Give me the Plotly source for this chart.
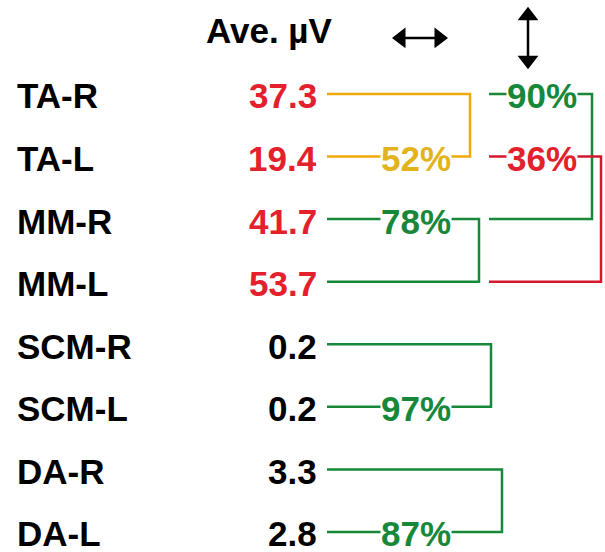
import plotly.graph_objects as go

# ---- data ----
muscles = ["TA-R", "TA-L", "MM-R", "MM-L", "SCM-R", "SCM-L", "DA-R", "DA-L"]
ave_uv = [37.3, 19.4, 41.7, 53.7, 0.2, 0.2, 3.3, 2.8]
value_colors = ["red", "red", "red", "red", "black", "black", "black", "black"]

# left/right comparisons (horizontal arrow column)
h_pairs = [(0, 1), (2, 3), (4, 5), (6, 7)]
h_pct = [52, 78, 97, 87]
h_text_row = [1, 2, 5, 7]
h_colors = ["yellow", "green", "green", "green"]

# top/bottom comparisons (vertical arrow column)
v_pairs = [(0, 2), (1, 3)]
v_pct = [90, 36]
v_text_row = [0, 1]
v_colors = ["green", "red"]

header = "Ave. µV"

# ---- style ----
PAL = {"red": "#E3202B", "black": "#000000", "green": "#17883A",
       "yellow": "#EFAA0A", "yellow_text": "#E2B31C", "darkred": "#D3182E"}
TEXT_PAL = {"red": PAL["red"], "green": PAL["green"], "yellow": PAL["yellow_text"]}
LINE_PAL = {"red": PAL["darkred"], "green": PAL["green"], "yellow": PAL["yellow"]}
FONT = dict(family="Liberation Sans, Arial, sans-serif", size=35, weight="bold")

X_LABEL = 15
X_VALUE_RIGHT = 319
X_LEFT_LINE = 327
X_H_TEXT = 416
H_BRACKET_X = [470, 479, 491, 502]
X_RIGHT_LINE = 489
X_V_TEXT = 542
V_BRACKET_X = [592, 601]
Y_HEADER = -1.02
Y_ARROW = -0.895

fig = go.Figure()

# brackets
for (a, b), c, xb in zip(h_pairs, h_colors, H_BRACKET_X):
    fig.add_trace(go.Scatter(x=[X_LEFT_LINE, xb, xb, X_LEFT_LINE], y=[a, a, b, b],
                             mode="lines", line=dict(color=LINE_PAL[c], width=2.5),
                             hoverinfo="skip", showlegend=False))
for (a, b), c, xb in zip(v_pairs, v_colors, V_BRACKET_X):
    fig.add_trace(go.Scatter(x=[X_RIGHT_LINE, xb, xb, X_RIGHT_LINE], y=[a, a, b, b],
                             mode="lines", line=dict(color=LINE_PAL[c], width=2.5),
                             hoverinfo="skip", showlegend=False))

# arrows
fig.add_trace(go.Scatter(x=[399, 441], y=[Y_ARROW, Y_ARROW], mode="lines",
                         line=dict(color="black", width=2.5), hoverinfo="skip", showlegend=False))
fig.add_trace(go.Scatter(x=[401, 439], y=[Y_ARROW, Y_ARROW], mode="markers",
                         marker=dict(symbol=["triangle-left", "triangle-right"], size=18, color="black"),
                         hoverinfo="skip", showlegend=False))
fig.add_trace(go.Scatter(x=[528, 528], y=[-1.30, -0.47], mode="lines",
                         line=dict(color="black", width=2.5), hoverinfo="skip", showlegend=False))
fig.add_trace(go.Scatter(x=[528, 528], y=[-1.25, -0.54], mode="markers",
                         marker=dict(symbol=["triangle-up", "triangle-down"], size=18, color="black"),
                         hoverinfo="skip", showlegend=False))

ann = []
ann.append(dict(x=204, y=Y_HEADER, text=header, xanchor="left", yanchor="middle",
                showarrow=False, font=dict(**FONT, color="black")))
for i, (m, v, c) in enumerate(zip(muscles, ave_uv, value_colors)):
    ann.append(dict(x=X_LABEL, y=i, text=m, xanchor="left", yanchor="middle", yshift=-2,
                    showarrow=False, font=dict(**FONT, color="black")))
    ann.append(dict(x=X_VALUE_RIGHT, y=i, text=f"{v:.1f}", xanchor="right", yanchor="middle",
                    yshift=-2, showarrow=False, font=dict(**FONT, color=PAL[c])))
for r, p, c in zip(h_text_row, h_pct, h_colors):
    ann.append(dict(x=X_H_TEXT, y=r, text=f"{p}%", xanchor="center", yanchor="middle",
                    yshift=-2, showarrow=False, bgcolor="white", borderpad=0,
                    font=dict(**FONT, color=TEXT_PAL[c])))
for r, p, c in zip(v_text_row, v_pct, v_colors):
    ann.append(dict(x=X_V_TEXT, y=r, text=f"{p}%", xanchor="center", yanchor="middle",
                    yshift=-2, showarrow=False, bgcolor="white", borderpad=0,
                    font=dict(**FONT, color=TEXT_PAL[c])))

fig.update_layout(
    width=605, height=552, margin=dict(l=0, r=0, t=0, b=0),
    paper_bgcolor="white", plot_bgcolor="white", annotations=ann,
    xaxis=dict(range=[0, 605], visible=False, fixedrange=True),
    yaxis=dict(range=[7.32, -1.502], visible=False, fixedrange=True),
)
fig.write_html("out.html", config={"displayModeBar": False},
               post_script="document.body.style.margin='0';document.body.style.overflow='hidden';")
